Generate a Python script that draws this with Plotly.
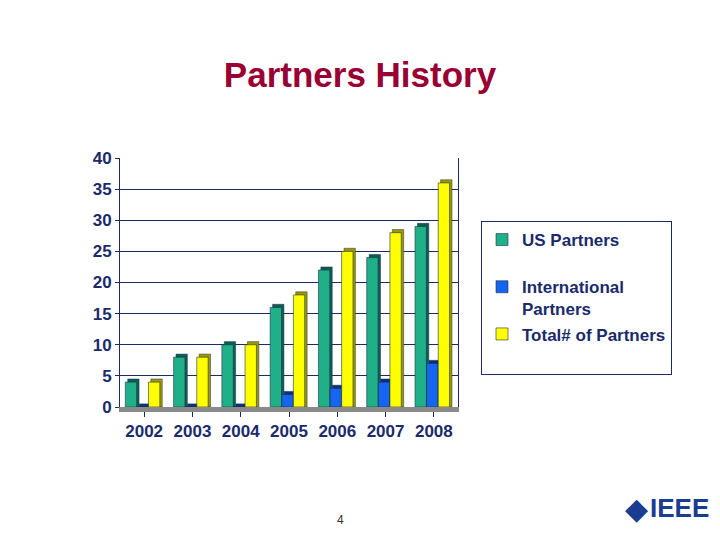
import plotly.graph_objects as go

years = ["2002", "2003", "2004", "2005", "2006", "2007", "2008"]
us_partners = [4, 8, 10, 16, 22, 24, 29]
intl_partners = [0, 0, 0, 2, 3, 4, 7]
total_partners = [4, 8, 10, 18, 25, 28, 36]
y_ticks = [0, 5, 10, 15, 20, 25, 30, 35, 40]
grid_vals = [5, 10, 15, 20, 25, 30, 35]

NAVY = "#1b2a6b"
FONT = "Liberation Sans, Arial, sans-serif"
pos = list(range(len(years)))

# page body has an 8px margin; figure is sized to fit the window
FW, FH, OFF = 712, 532, 8
def px(x):
    return (x - OFF) / FW
def py(y):
    return 1 - (y - OFF) / FH

series = [
    ("<b>US Partners</b><br> ", us_partners, "#1fb08a", "#0b5e55", -0.39),
    ("<b>International</b><br><b>Partners</b>", intl_partners, "#1565f0", "#0a2f8a", -0.15),
    ("<b>Total# of Partners</b><br> ", total_partners, "#ffff00", "#9c9a00", 0.09),
]

W = 0.235
DX = 0.05
DY = 0.5

fig = go.Figure()
for name, vals, front, side, off in series:
    fig.add_trace(go.Bar(
        x=pos, y=[v + DY for v in vals], offset=off + DX, width=W,
        marker=dict(color=side, line=dict(color="#203040", width=0.5)),
        showlegend=False, hoverinfo="skip"))
    fig.add_trace(go.Bar(
        x=pos, y=vals, offset=off, width=W, name=name,
        marker=dict(color=front, line=dict(color="#203040", width=0.6))))

fig.update_layout(
    width=FW, height=FH,
    margin=dict(l=0, r=0, t=0, b=0, autoexpand=False),
    paper_bgcolor="white", plot_bgcolor="white",
    barmode="overlay",
    font=dict(family=FONT, color=NAVY, size=17),
    title=dict(text="<b>Partners History</b>", x=px(360), xanchor="center",
               y=py(75), yanchor="middle", automargin=False,
               font=dict(family=FONT, size=35, color="#990033")),
    xaxis=dict(domain=[px(120), px(458)], range=[-0.5, 6.5],
               tickvals=pos, ticktext=[f"<b>{y}</b>" for y in years],
               showgrid=False, zeroline=False, automargin=False,
               showline=True, linecolor="#8a8a8a", linewidth=5,
               ticks="outside", tickson="boundaries", ticklen=5,
               tickcolor=NAVY, tickfont=dict(size=17, color=NAVY)),
    yaxis=dict(domain=[py(407), py(158)], range=[0, 40], automargin=False,
               tickvals=y_ticks, ticktext=[f"<b>{t}</b>" for t in y_ticks],
               showgrid=False,
               minor=dict(tickmode="array", tickvals=grid_vals, showgrid=True,
                          gridcolor=NAVY, gridwidth=1, ticks=""),
               zeroline=False, showline=True, linecolor=NAVY, linewidth=1,
               mirror=True, ticks="outside", ticklen=4, tickcolor=NAVY,
               tickfont=dict(size=17, color=NAVY)),
    legend=dict(x=px(481), y=py(221), xanchor="left", yanchor="top",
                bordercolor=NAVY, borderwidth=1, bgcolor="white",
                valign="top", itemwidth=30,
                font=dict(family=FONT, size=17, color=NAVY)),
)

fig.add_annotation(text="4", x=px(340), y=py(520), xref="paper", yref="paper",
                   xanchor="center", yanchor="middle",
                   showarrow=False, font=dict(family=FONT, size=12, color="#333333"))
fig.add_annotation(text="◆", x=px(636), y=py(508), xref="paper", yref="paper",
                   xanchor="center", yanchor="middle",
                   showarrow=False, font=dict(family="DejaVu Sans", size=30, color="#1a3d8f"))
fig.add_annotation(text="<b>IEEE</b>", x=px(648), y=py(508), xref="paper", yref="paper",
                   xanchor="left", yanchor="middle", showarrow=False,
                   font=dict(family=FONT, size=26, color="#1a3d8f"))

fig.write_html("out.html")
